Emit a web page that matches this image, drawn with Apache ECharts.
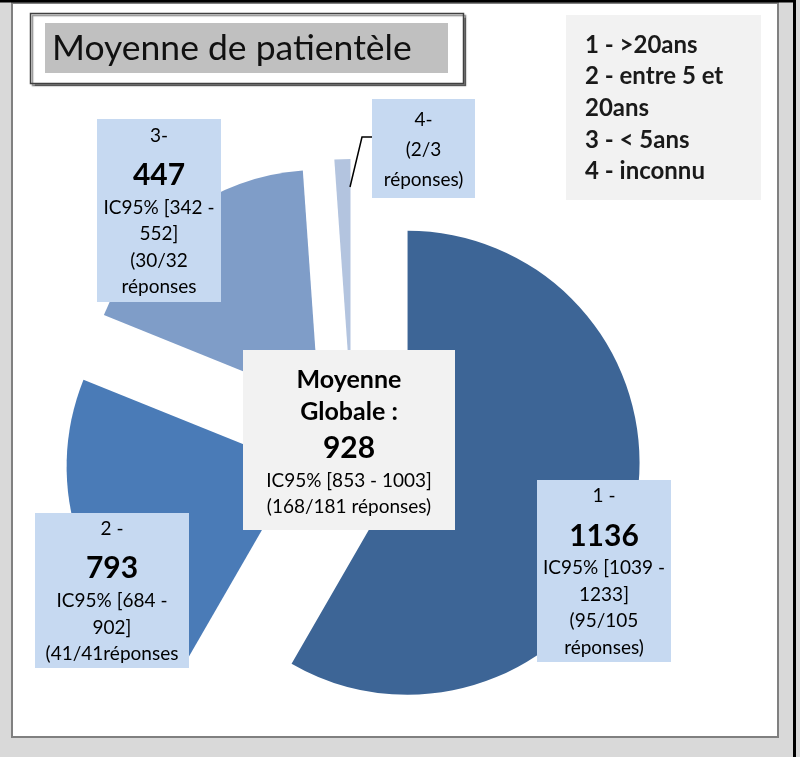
<!DOCTYPE html>
<html>
<head>
<meta charset="utf-8">
<title>Moyenne de patientèle</title>
<script src="https://cdn.jsdelivr.net/npm/echarts@6/dist/echarts.min.js"></script>
<style>
  html, body { margin: 0; padding: 0; background: #d9d9d9; }
  #main { width: 800px; height: 757px; }
</style>
</head>
<body>
<div id="main"></div>
<script>
// tranches d'age
var categories = ['>20ans', 'entre 5 et\n20ans', '< 5ans', 'inconnu'];
var tetes = ['1 -', '2 -', '3-', '4-'];
// moyenne de patientele et IC95%
var moyennes = [1136, 793, 447, null];
var icBas = [1039, 684, 342, null];
var icHaut = [1233, 902, 552, null];
// reponses / effectif
var reponses = [95, 41, 30, 2];
var totaux = [105, 41, 32, 3];
var parts = [105, 41, 32, 2];
// petites bizarreries du texte d'origine
var sepRep = ['\n', '', '\n', '\n'];
var finRep = [')', '', '', ')'];

var moyGlobale = 928;
var icGlobale = [853, 1003];
var repGlobale = 168;
var totGlobale = 181;

var couleurs = ['#3d6596', '#4a7bb7', '#7f9dc8', '#b3c4df'];
var police = 'Lato, "Liberation Sans", sans-serif';

// boites des etiquettes (placees a la main comme dans Excel)
var boites = [
  { x: 537, y: 480, w: 134, h: 182, lh: 26.5 },
  { x: 35, y: 513, w: 154, h: 155, lh: 26.5 },
  { x: 97, y: 119, w: 124, h: 183, lh: 26.5 },
  { x: 372, y: 99, w: 103, h: 99, lh: 30 }
];

var myChart = echarts.init(document.getElementById('main'));

function texteEtiquette(i) {
  var l = ['{t|' + tetes[i] + '}'];
  if (moyennes[i] != null) {
    l.push('{s|}{b|' + moyennes[i] + '}');
    l.push('{t|IC95% [' + icBas[i] + ' -}');
    l.push('{t|' + icHaut[i] + ']}');
  }
  var rep = '(' + reponses[i] + '/' + totaux[i] + sepRep[i] + 'réponses' + finRep[i];
  rep.split('\n').forEach(function (s) { l.push('{t|' + s + '}'); });
  return l.join('\n');
}

var etiquettes = [];
boites.forEach(function (b, i) {
  etiquettes.push({ type: 'rect', z: 10, shape: { x: b.x, y: b.y, width: b.w, height: b.h },
    style: { fill: '#c6d9f1' } });
  etiquettes.push({ type: 'text', z: 11, style: {
    text: texteEtiquette(i), x: b.x + b.w / 2, y: b.y + b.h / 2 + 1,
    align: 'center', verticalAlign: 'middle',
    rich: {
      t: { fontSize: 19, lineHeight: b.lh, align: 'center', fill: '#000', fontFamily: police },
      s: { fontSize: 19, lineHeight: 45.5, align: 'center', fill: '#000', fontFamily: police },
      b: { fontSize: 30, fontWeight: 'bold', lineHeight: 42, verticalAlign: 'bottom', padding: [0, 0, 4, 0],
        align: 'center', fill: '#000', fontFamily: police }
    } } });
});
// trait de rappel de la part 4
etiquettes.push({ type: 'polyline', z: 10, shape: { points: [[350, 187], [362, 137], [372, 137]] },
  style: { stroke: '#000', lineWidth: 1.5, fill: null } });

myChart.setOption({
  animation: false,
  graphic: [
    // cadre
    { type: 'rect', z: -5, shape: { x: 12, y: 3, width: 766, height: 734 },
      style: { fill: '#fff', stroke: '#808080', lineWidth: 2 } },
    { type: 'rect', z: -4, shape: { x: 0, y: 0, width: 796, height: 2.5 }, style: { fill: '#000' } },
    { type: 'rect', z: -4, shape: { x: 793, y: 0, width: 3, height: 757 }, style: { fill: '#000' } },
    // titre
    { type: 'rect', z: -3, shape: { x: 30.5, y: 13.5, width: 433, height: 70 },
      style: { fill: '#fff', stroke: '#404040', lineWidth: 1.5,
        shadowColor: 'rgba(0,0,0,0.45)', shadowOffsetX: 2, shadowOffsetY: 2, shadowBlur: 1 } },
    { type: 'rect', z: -2, shape: { x: 45, y: 23, width: 403, height: 50 }, style: { fill: '#c0c0c0' } },
    { type: 'text', z: -1, style: { text: 'Moyenne de patientèle', x: 52, y: 49, verticalAlign: 'middle',
        font: '35.5px ' + police, fill: '#111' } },
    // legende
    { type: 'rect', z: -2, shape: { x: 566, y: 15, width: 195, height: 185 }, style: { fill: '#f2f2f2' } },
    { type: 'text', z: -1, style: {
        text: categories.map(function (c, i) { return (i + 1) + ' - ' + c; }).join('\n'),
        x: 585, y: 29, lineHeight: 31.7, font: 'bold 24px ' + police, fill: '#1a1a1a' } },
    // moyenne globale
    { type: 'rect', z: 10, shape: { x: 243, y: 350, width: 212, height: 180 }, style: { fill: '#f2f2f2' } },
    { type: 'text', z: 11, style: {
        text: '{m|Moyenne}\n{m|Globale :}\n{g|' + moyGlobale + '}\n{t|IC95% [' + icGlobale[0] + ' - ' + icGlobale[1] + ']}\n{u|(' + repGlobale + '/' + totGlobale + ' réponses)}',
        x: 349, y: 442, align: 'center', verticalAlign: 'middle',
        rich: {
          m: { fontSize: 25, fontWeight: 'bold', lineHeight: 32, align: 'center', fill: '#000', fontFamily: police },
          g: { fontSize: 30, fontWeight: 'bold', lineHeight: 40, align: 'center', fill: '#000', fontFamily: police },
          t: { fontSize: 19, lineHeight: 25, align: 'center', fill: '#000', fontFamily: police },
          u: { fontSize: 19, lineHeight: 27, align: 'center', fill: '#000', fontFamily: police }
        } } }
  ].concat(etiquettes),
  series: [{
    type: 'pie',
    center: [352.5, 448],
    radius: 232,
    startAngle: 90,
    clockwise: true,
    selectedMode: 'multiple',
    selectedOffset: 57,
    emphasis: { disabled: true },
    itemStyle: { borderWidth: 0 },
    label: { show: false },
    labelLine: { show: false },
    data: parts.map(function (v, i) {
      return {
        value: v,
        name: categories[i],
        selected: true,
        itemStyle: { color: couleurs[i] },
        select: { itemStyle: { color: couleurs[i] } }
      };
    })
  }]
});
</script>
</body>
</html>
